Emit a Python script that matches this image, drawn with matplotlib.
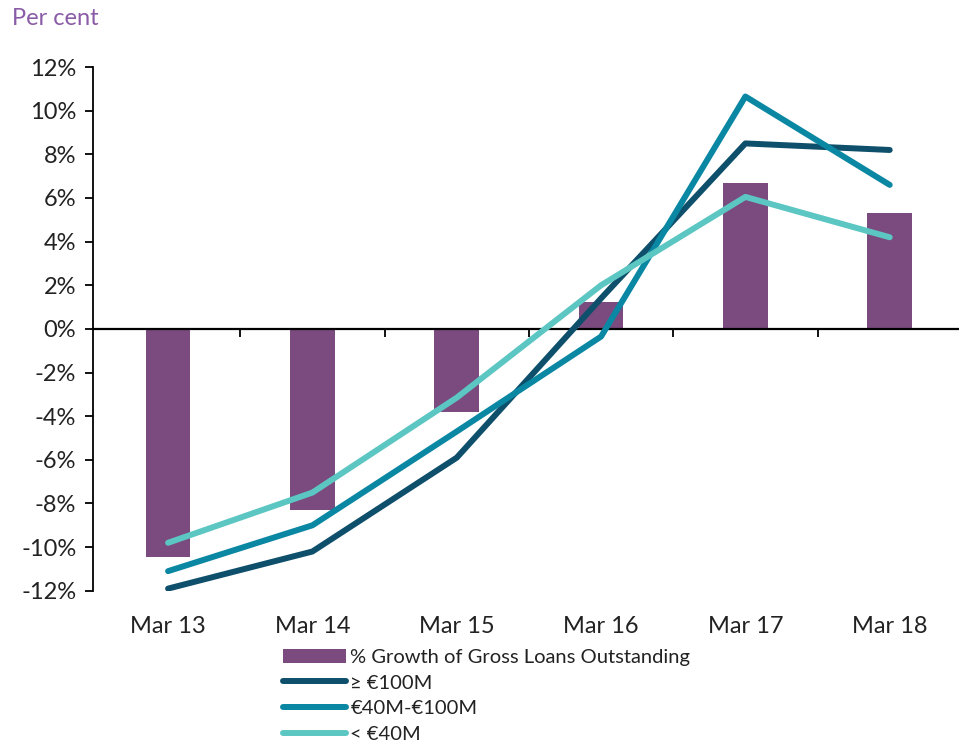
import matplotlib
matplotlib.use("Agg")
import matplotlib.pyplot as plt
from matplotlib.ticker import FixedLocator, FuncFormatter
from matplotlib.patches import Patch
from matplotlib.lines import Line2D

plt.rcParams['font.family'] = ['Lato', 'DejaVu Sans']

categories = ["Mar 13", "Mar 14", "Mar 15", "Mar 16", "Mar 17", "Mar 18"]
growth_total = [-10.45, -8.3, -3.8, 1.24, 6.7, 5.33]
large = [-11.9, -10.2, -5.9, 1.4, 8.5, 8.2]
medium = [-11.1, -9.0, -4.7, -0.35, 10.65, 6.6]
small = [-9.8, -7.5, -3.15, 2.0, 6.05, 4.2]
y_ticks = [12, 10, 8, 6, 4, 2, 0, -2, -4, -6, -8, -10, -12]

series_names = ["% Growth of Gross Loans Outstanding", "\u2265 \u20ac100M",
                "\u20ac40M-\u20ac100M", "< \u20ac40M"]
c_bar = "#7B4A7E"
c_large = "#0E4F6B"
c_med = "#0A87A2"
c_small = "#5CC6C3"

fig = plt.figure(figsize=(9.59, 7.45), dpi=100)
ax = fig.add_axes([0.097, 0.207, 0.906, 0.703])

x = list(range(len(categories)))
ax.bar(x, growth_total, width=0.31, color=c_bar, zorder=2)
lw = 4.3
ax.plot(x, large, color=c_large, lw=lw, solid_capstyle='round', zorder=3)
ax.plot(x, medium, color=c_med, lw=lw, solid_capstyle='round', zorder=4)
ax.plot(x, small, color=c_small, lw=lw, solid_capstyle='round', zorder=5)

ax.set_xlim(-0.52, 5.5)
ax.set_ylim(-12, 12)
ax.set_yticks(y_ticks)
ax.yaxis.set_major_formatter(FuncFormatter(lambda v, p: f"{int(v)}%"))
ax.tick_params(axis='y', labelsize=17, length=6, width=1.3, direction='out',
               pad=6, labelcolor='#222222')

ax.spines['top'].set_visible(False)
ax.spines['right'].set_visible(False)
ax.spines['left'].set_linewidth(1.3)
ax.spines['bottom'].set_position(('data', 0))
ax.spines['bottom'].set_linewidth(1.6)
ax.spines['bottom'].set_zorder(2.5)

ax.set_xticks(x)
ax.set_xticklabels(categories)
ax.xaxis.set_minor_locator(FixedLocator([i + 0.5 for i in range(len(categories) - 1)]))
ax.tick_params(axis='x', which='major', length=0, pad=206.5, labelsize=17,
               labelcolor='#222222')
ax.tick_params(axis='x', which='minor', length=6, width=1.3, direction='out')

fig.text(0.013, 0.975, "Per cent", color="#8A5BA6", fontsize=17, va='center', ha='left')

handles = [Patch(facecolor=c_bar, edgecolor='none'),
           Line2D([0], [0], color=c_large, lw=lw, solid_capstyle='round'),
           Line2D([0], [0], color=c_med, lw=lw, solid_capstyle='round'),
           Line2D([0], [0], color=c_small, lw=lw, solid_capstyle='round')]
leg = fig.legend(handles, series_names, loc='upper left', bbox_to_anchor=(0.295, 0.129),
                 frameon=False, fontsize=14.5, handlelength=3.15, handleheight=0.7,
                 labelspacing=0.42, handletextpad=0.2, borderpad=0, borderaxespad=0)
for t in leg.get_texts():
    t.set_color('#222222')

fig.savefig("out.png", dpi=100)
